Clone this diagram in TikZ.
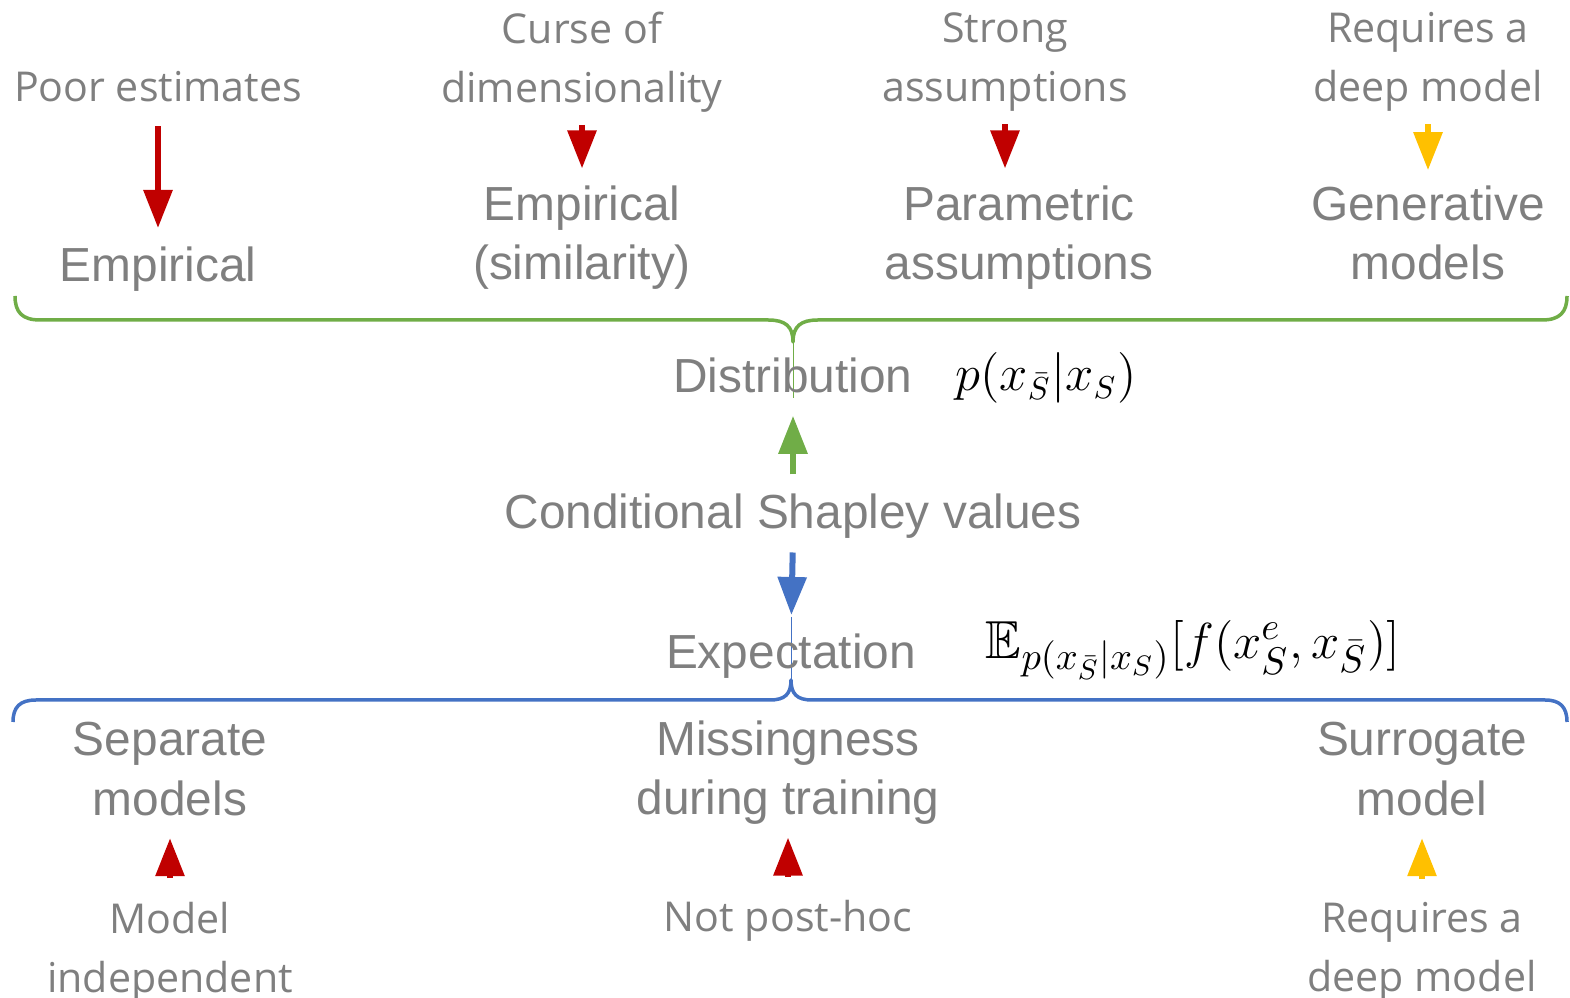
\documentclass[tikz,border=0pt]{standalone}
\usepackage{amsmath,amssymb}
\usepackage{fontspec}
\setmainfont{Liberation Sans}
\newfontfamily\cuefont{Open Sans}
\usetikzlibrary{arrows.meta}
\definecolor{TextGray}{HTML}{7F7F7F}
\definecolor{FlawRed}{HTML}{C00000}
\definecolor{FlawGold}{HTML}{FFC000}
\definecolor{DistGreen}{HTML}{70AD47}
\definecolor{ExpBlue}{HTML}{4472C4}
\tikzset{
  cue/.style={font=\cuefont\fontsize{11.7}{16.8}\selectfont,text=TextGray,align=center,inner sep=0pt},
  method/.style={font=\fontsize{13.6}{16.8}\selectfont,text=TextGray,align=center,inner sep=0pt},
  formula/.style={font=\fontsize{13.5}{16}\selectfont,text=black,inner sep=0pt},
  blockarrow/.style={line width=0.06cm,-{Triangle[width=0.28cm,length=0.38cm]}},
  brace/.style={line width=0.035cm,line join=round},
}

\begin{document}
\begin{tikzpicture}[x=0.01cm,y=-0.01cm]
    \useasboundingbox (0,0) rectangle (1570,998);
    % top row: estimators of the conditional distribution
    \node[cue] (poor) at (158,87) {Poor estimates};
    \node[cue] (curse) at (582,62) {Curse of\\dimensionality};
    \node[cue] (strong) at (1005,62) {Strong\\assumptions};
    \node[cue] (deeptop) at (1428,62) {Requires a\\deep model};
    \node[method] (emp) at (158,269) {Empirical};
    \node[method] (empsim) at (582,238) {Empirical\\(similarity)};
    \node[method] (param) at (1019,238) {Parametric\\assumptions};
    \node[method] (gen) at (1428,233) {Generative\\models};
    \draw[blockarrow,FlawRed,shorten <=0.23cm,shorten >=0.18cm] (poor.south) -- (emp.north);
    \draw[blockarrow,FlawRed,shorten <=0.12cm,shorten >=0.17cm] (curse.south) -- (empsim.north);
    \draw[blockarrow,FlawRed,shorten <=0.12cm,shorten >=0.17cm] (strong.south) -- (strong.south |- param.north);
    \draw[blockarrow,FlawGold,shorten <=0.12cm,shorten >=0.15cm] (deeptop.south) -- (gen.north);
    % braces
    \draw[brace,DistGreen] (15,296) .. controls (15,312) and (22,320) .. (40,320) -- (768,320)
      .. controls (785,320) and (793,326) .. (793,342)
      .. controls (793,326) and (801,320) .. (818,320) -- (1542,320)
      .. controls (1560,320) and (1567,312) .. (1567,296);
    \draw[DistGreen,line width=0.01cm] (793,330) -- (793,398);
    \draw[brace,ExpBlue] (13,722) .. controls (13,707) and (20,700) .. (36,700) -- (770,700)
      .. controls (785,700) and (791,694) .. (791,680)
      .. controls (791,694) and (797,700) .. (812,700) -- (1545,700)
      .. controls (1560,700) and (1567,707) .. (1567,722);
    \draw[ExpBlue,line width=0.01cm] (791,617) -- (791,690);
    % centre
    \node[method] (dist) at (793,375) {Distribution};
    \node[formula] (pdist) at (1046,378) {$p(x_{\bar{S}}|x_S)$};
    \node[method] (cond) at (793,516) {Conditional Shapley values};
    \node[method] (expect) at (791,656) {Expectation};
    \node[formula,font=\fontsize{15.2}{18}\selectfont] (eexp) at (1193,650) {$\mathbb{E}_{p(x_{\bar{S}}|x_S)}[f(x_S^e,x_{\bar{S}})]$};
    \draw[blockarrow,DistGreen,shorten <=0.185cm,shorten >=0.225cm] (cond.north) -- (dist.south);
    \draw[blockarrow,ExpBlue,shorten <=0.135cm,shorten >=0.18cm] (cond.south) -- (expect.north);
    % bottom row: estimators of the expectation
    \node[method] (sep) at (170,769) {Separate\\models};
    \node[method] (miss) at (788,773) {Missingness\\during training};
    \node[method] (surr) at (1422,769) {Surrogate\\model};
    \node[cue] (modind) at (170,952) {Model\\independent};
    \node[cue] (notpost) at (788,921) {Not post-hoc};
    \node[cue] (deepbot) at (1422,952) {Requires a\\deep model};
    \draw[blockarrow,FlawRed,shorten <=0.23cm,shorten >=0.22cm] (modind.north) -- (sep.south);
    \draw[blockarrow,FlawRed,shorten <=0.23cm,shorten >=0.12cm] (notpost.north) -- (miss.south);
    \draw[blockarrow,FlawGold,shorten <=0.23cm,shorten >=0.22cm] (deepbot.north) -- (surr.south);
\end{tikzpicture}
\end{document}
